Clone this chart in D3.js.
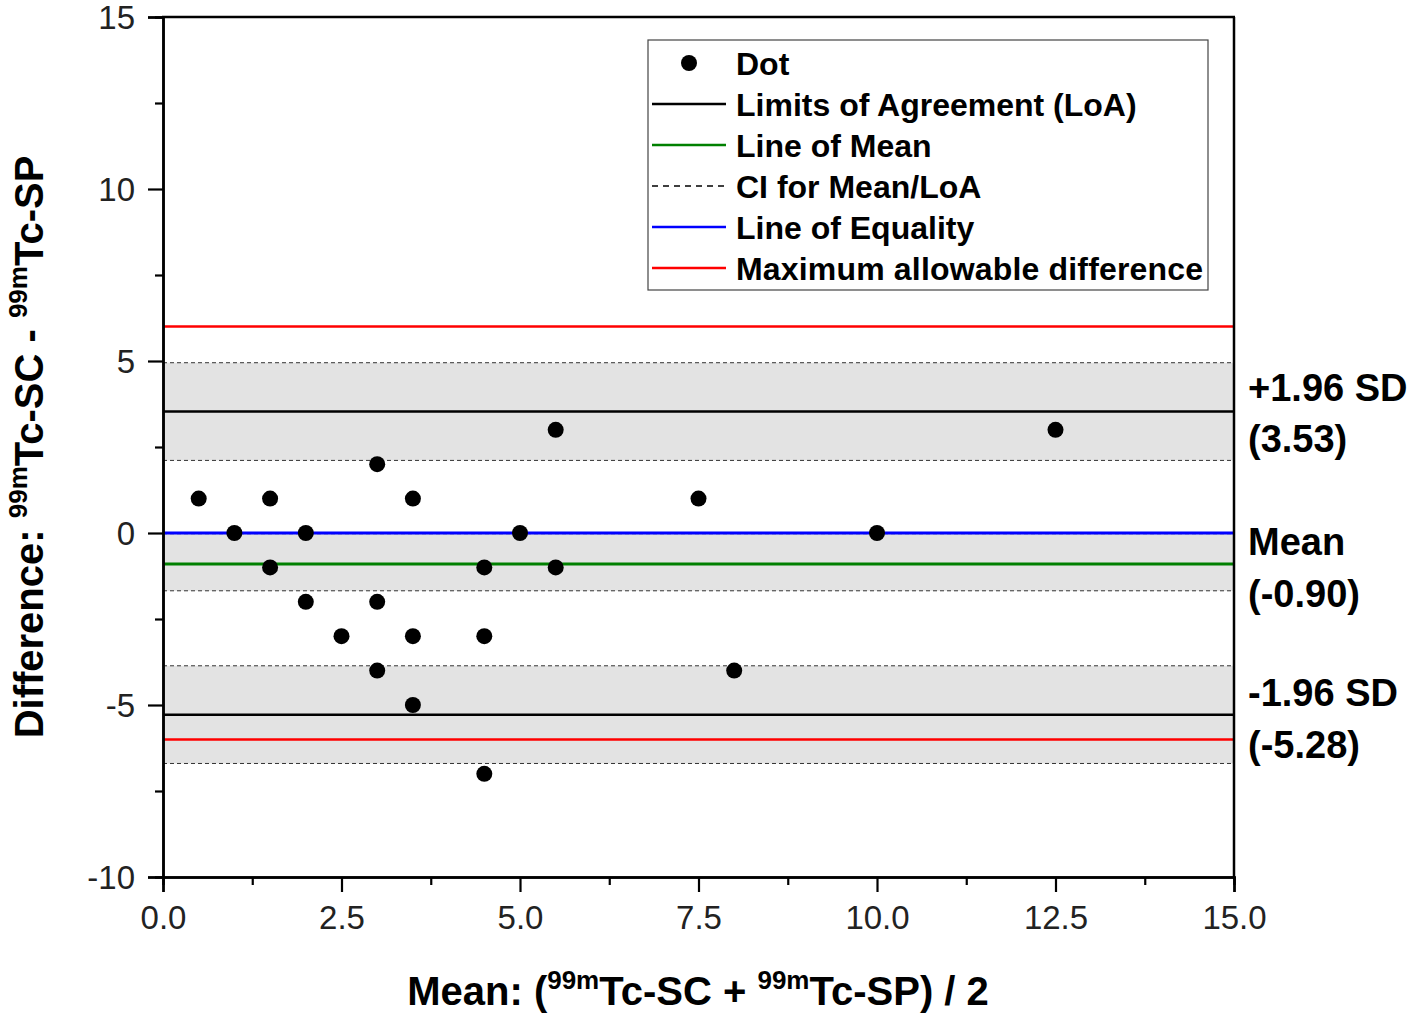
<!DOCTYPE html>
<html><head><meta charset="utf-8">
<script src="https://cdn.jsdelivr.net/npm/d3@7"></script>
<style>body{margin:0;background:#fff}svg{display:block}text{font-family:"Liberation Sans",Arial,sans-serif}</style>
</head><body><svg id="c" width="1418" height="1016"></svg>
<script>
const pointsX = [0.5,1,1.5,1.5,2,2,2.5,3,3,3,3.5,3.5,3.5,4.5,4.5,4.5,5,5.5,5.5,7.5,8,10,12.5];
const pointsY = [1,0,1,-1,0,-2,-3,2,-2,-4,1,-3,-5,-1,-3,-7,0,3,-1,1,-4,0,3];
const meanDiff = -0.90, upperLoA = 3.53, lowerLoA = -5.28;
const ciUpper = [2.11, 4.95], ciMean = [-1.68, -0.02], ciLower = [-6.70, -3.86];
const maxAllow = [6, -6], equality = 0;
const xTicks = [0,2.5,5,7.5,10,12.5,15];
const yTicks = [-10,-5,0,5,10,15];
const legendItems = ["Dot","Limits of Agreement (LoA)","Line of Mean","CI for Mean/LoA","Line of Equality","Maximum allowable difference"];
const sideLabels = [["+1.96 SD","(3.53)"],["Mean","(-0.90)"],["-1.96 SD","(-5.28)"]];

const svg = d3.select("#c");
const L=163,R=1234,T=17,B=877;
const x = d3.scaleLinear().domain([0,15]).range([L,R]);
const y = d3.scaleLinear().domain([-10,15]).range([B,T]);
const g = svg.append("g");

[ciUpper, ciMean, ciLower].forEach(b=>{
  g.append("rect").attr("x",L).attr("width",R-L).attr("y",y(b[1])).attr("height",y(b[0])-y(b[1])).attr("fill","#e3e3e3");
  b.forEach(v=>g.append("line").attr("x1",L).attr("x2",R).attr("y1",y(v)).attr("y2",y(v)).attr("stroke","#333").attr("stroke-width",1).attr("stroke-dasharray","4,3"));
});
const hline=(v,c,w)=>g.append("line").attr("x1",L).attr("x2",R).attr("y1",y(v)).attr("y2",y(v)).attr("stroke",c).attr("stroke-width",w);
maxAllow.forEach(v=>hline(v,"#ff0000",2.5));
hline(upperLoA,"#000",2.5); hline(lowerLoA,"#000",2.5);
hline(meanDiff,"#008000",3);
hline(equality,"#0000ff",3);

g.selectAll("circle.pt").data(pointsX.map((d,i)=>[d,pointsY[i]])).join("circle")
 .attr("cx",d=>x(d[0])).attr("cy",d=>y(d[1])).attr("r",8).attr("fill","#000");

const xa = svg.append("g").attr("transform",`translate(0,${B})`)
 .call(d3.axisBottom(x).tickValues(xTicks).tickFormat(d3.format(".1f")).tickSize(15).tickPadding(9));
const xm = svg.append("g").attr("transform",`translate(0,${B})`)
 .call(d3.axisBottom(x).tickValues(d3.range(1.25,15,2.5)).tickFormat("").tickSize(8));
const ya = svg.append("g").attr("transform",`translate(${L},0)`)
 .call(d3.axisLeft(y).tickValues(yTicks).tickFormat(d=>String(d)).tickSize(15).tickPadding(13));
const ym = svg.append("g").attr("transform",`translate(${L},0)`)
 .call(d3.axisLeft(y).tickValues(d3.range(-7.5,15,5)).tickFormat("").tickSize(8));
[xa,xm,ya,ym].forEach(a=>{a.select(".domain").attr("stroke-width",2.5);a.selectAll(".tick line").attr("stroke-width",2.2);});
[xa,ya].forEach(a=>a.selectAll("text").attr("font-size",33).attr("fill","#222"));
xa.selectAll("text").attr("dy","0.85em");
ya.selectAll("text").attr("dy","0.36em");
svg.append("line").attr("x1",L-1).attr("x2",R+1).attr("y1",T).attr("y2",T).attr("stroke","#000").attr("stroke-width",2.5);
svg.append("line").attr("x1",R).attr("x2",R).attr("y1",T).attr("y2",B).attr("stroke","#000").attr("stroke-width",2.5);

const lg = svg.append("g");
lg.append("rect").attr("x",648).attr("y",40).attr("width",560).attr("height",250).attr("fill","#fff").attr("stroke","#444").attr("stroke-width",1.2);
const styles=[null,["#000",null],["#008000",null],["#000","6,5"],["#0000ff",null],["#ff0000",null]];
legendItems.forEach((t,i)=>{
  const yy=63+i*41;
  if(i===0) lg.append("circle").attr("cx",689).attr("cy",yy).attr("r",8).attr("fill","#000");
  else lg.append("line").attr("x1",652).attr("x2",726).attr("y1",yy).attr("y2",yy).attr("stroke",styles[i][0]).attr("stroke-width",styles[i][1]?1.3:2.5).attr("stroke-dasharray",styles[i][1]);
  lg.append("text").attr("x",736).attr("y",yy).attr("dy","0.36em").attr("font-size",32).attr("font-weight","bold").attr("textLength",i===5?467:null).text(t);
});

const sideY=[[387,438],[541,593],[692,744]];
sideLabels.forEach((p,i)=>p.forEach((t,j)=>svg.append("text").attr("x",1248).attr("y",sideY[i][j]).attr("dy","0.36em").attr("font-size",38).attr("font-weight","bold").text(t)));

const xt = svg.append("text").attr("x",698).attr("y",1005).attr("text-anchor","middle").attr("font-size",40).attr("font-weight","bold");
xt.append("tspan").text("Mean: (");
xt.append("tspan").attr("dy",-16).attr("font-size",26).text("99m");
xt.append("tspan").attr("dy",16).text("Tc-SC + ");
xt.append("tspan").attr("dy",-16).attr("font-size",26).text("99m");
xt.append("tspan").attr("dy",16).text("Tc-SP) / 2");

const yt = svg.append("text").attr("transform","translate(43,447) rotate(-90)").attr("text-anchor","middle").attr("font-size",40).attr("font-weight","bold");
yt.append("tspan").text("Difference: ");
yt.append("tspan").attr("dy",-16).attr("font-size",26).text("99m");
yt.append("tspan").attr("dy",16).text("Tc-SC - ");
yt.append("tspan").attr("dy",-16).attr("font-size",26).text("99m");
yt.append("tspan").attr("dy",16).text("Tc-SP");
</script></body></html>
